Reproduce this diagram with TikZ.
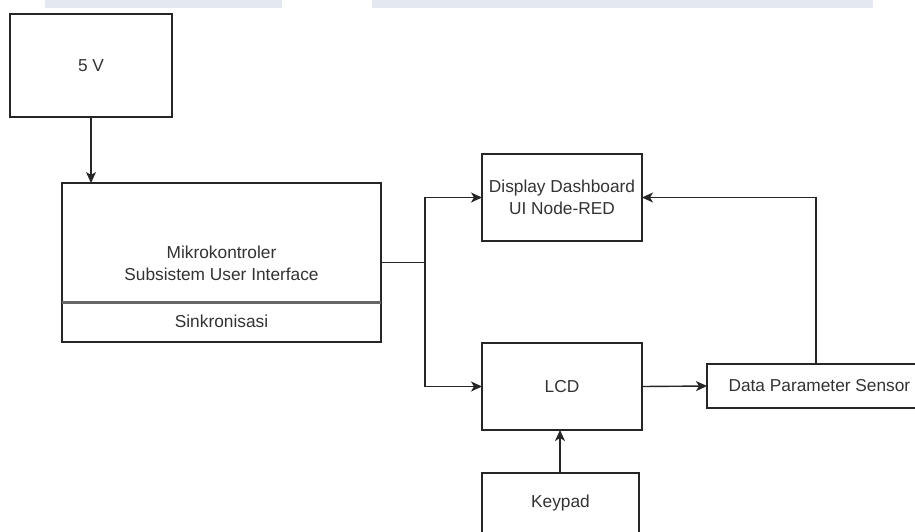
\documentclass[tikz,border=0pt]{standalone}
\usepackage{fontspec}
\setmainfont{Liberation Sans}
\usetikzlibrary{arrows.meta}
\definecolor{txt}{HTML}{333333}
\definecolor{band}{HTML}{E4E8F0}
\begin{document}
\begin{tikzpicture}[x=1pt,y=-1pt,
  box/.style={draw=black!85, line width=1.5pt, fill=white, inner sep=0pt, outer sep=0pt,
    text=txt, align=center, font=\fontsize{17.3}{21.7}\selectfont},
  conn/.style={draw=black!85, line width=1.4pt, -{Stealth[length=11pt,width=10pt,inset=3pt]}},
  plain/.style={draw=black!85, line width=1.4pt}]
\clip (0,0) rectangle (915,531);
\fill[white] (0,0) rectangle (915,531);
% top bands
\fill[band] (45,0) rectangle (282,8);
\fill[band] (372,0) rectangle (873,8);
% nodes
\node[box, minimum width=162pt, minimum height=103pt] (v5) at (91,65.5) {5 V};
\node[box, minimum width=319pt, minimum height=159pt] (mk) at (221.5,262.5) {};
\node[text=txt, align=center, font=\fontsize{17.3}{21.7}\selectfont] (mktext) at (221.5,263) {Mikrokontroler\\Subsistem User Interface};
\coordinate (divL) at (62,302.5);
\coordinate (divR) at (381,302.5);
\draw[draw=black!60, line width=2.2pt] (divL) -- (divR);
\node[text=txt, font=\fontsize{17.3}{21.7}\selectfont] (sink) at (221.5,321) {Sinkronisasi};
\node[box, minimum width=160pt, minimum height=87pt] (disp) at (562,197.5) {Display Dashboard\\UI Node-RED};
\node[box, minimum width=160pt, minimum height=87pt] (lcd) at (562,386.5) {LCD};
\node[box, minimum width=218pt, minimum height=44pt] (dps) at (816,386) {};
\node[text=txt, font=\fontsize{17.3}{21.7}\selectfont, anchor=west] (dpstext) at (725,386) {Data Parameter Sensor};
\node[box, minimum width=157pt, minimum height=60pt] (kp) at (560.5,503) {Keypad};
% connectors
\coordinate (split) at (425,262.5);
\draw[conn] (v5.south) -- (v5.south |- mk.north);
\draw[plain] (mk.east) -- (split);
\draw[conn] (split) |- (disp.west);
\draw[conn] (split) |- (lcd.west);
\draw[conn] (lcd.east) -- (dps.west);
\draw[conn] (dps.north) |- (disp.east);
\draw[conn] (kp.north -| 560,0) -- (560,430);
\end{tikzpicture}
\end{document}
